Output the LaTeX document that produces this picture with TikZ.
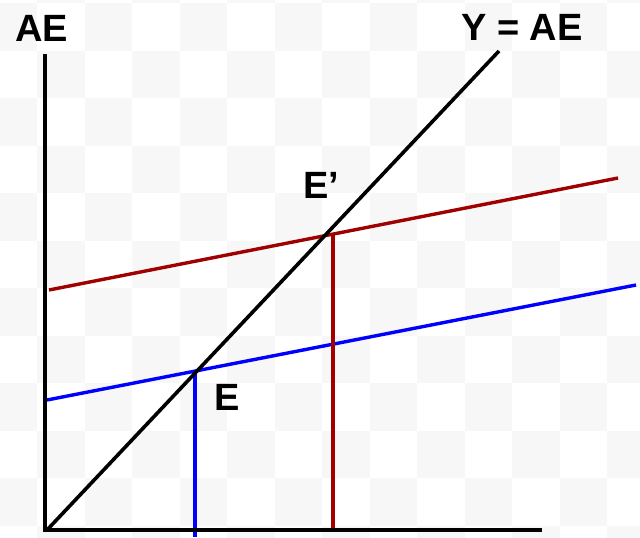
\documentclass[tikz,border=0pt]{standalone}
\usepackage{fontspec}
\setmainfont{Liberation Sans}
\definecolor{checker}{RGB}{247,247,247}
\definecolor{aered}{RGB}{160,0,0}
\definecolor{aeblue}{RGB}{0,0,255}
\begin{document}
\begin{tikzpicture}[x=1pt,y=-1pt,
  axis/.style={line width=3.6pt,black},
  curve/.style={line width=3.4pt},
  lbl/.style={inner sep=0pt,anchor=base west,font=\fontsize{38}{40}\selectfont\bfseries}]
\useasboundingbox (0,0) rectangle (640,538);
% faint checkerboard background
\begin{scope}
\clip (0,0) rectangle (640,538);
\fill[white] (0,0) rectangle (640,538);
\foreach \c in {0,...,14}{
  \foreach \r in {0,...,12}{
    \pgfmathparse{isodd(\c+\r)}
    \ifnum\pgfmathresult=1
      \fill[checker] (-10.5+47.5*\c,-44.5+47.5*\r) rectangle ++(47.5,47.5);
    \fi
  }
}
\end{scope}
% coordinates
\coordinate (O) at (47,530);
\coordinate (ytop) at (45,54);
\coordinate (xend) at (542,530);
\coordinate (dtop) at (499,51);
\coordinate (b1) at (47,400);
\coordinate (b2) at (636,285);
\coordinate (r1) at (49,290);
\coordinate (r2) at (618,178);
\coordinate (E) at (intersection of b1--b2 and 195,0--195,600);
\coordinate (Ep) at (intersection of r1--r2 and 333,0--333,600);
\coordinate (Ebot) at (E |- 0,537);
\coordinate (Epbot) at (Ep |- 0,530);
% lines
\draw[curve,aered] (r1) -- (r2);
\draw[curve,aeblue] (b1) -- (b2);
\draw[curve,aered] (Ep) -- (Epbot);
\draw[curve,aeblue] (E) -- (Ebot);
\draw[axis] (ytop) -- (45,530) -- (xend);
\draw[axis] (O) -- (dtop);
% labels
\node[lbl] (lae) at (15,41) {AE};
\node[lbl] (lyae) at (461,40) {Y = AE};
\node[lbl] (lep) at (303,198) {E’};
\node[lbl] (le) at (214,410) {E};
\end{tikzpicture}
\end{document}
